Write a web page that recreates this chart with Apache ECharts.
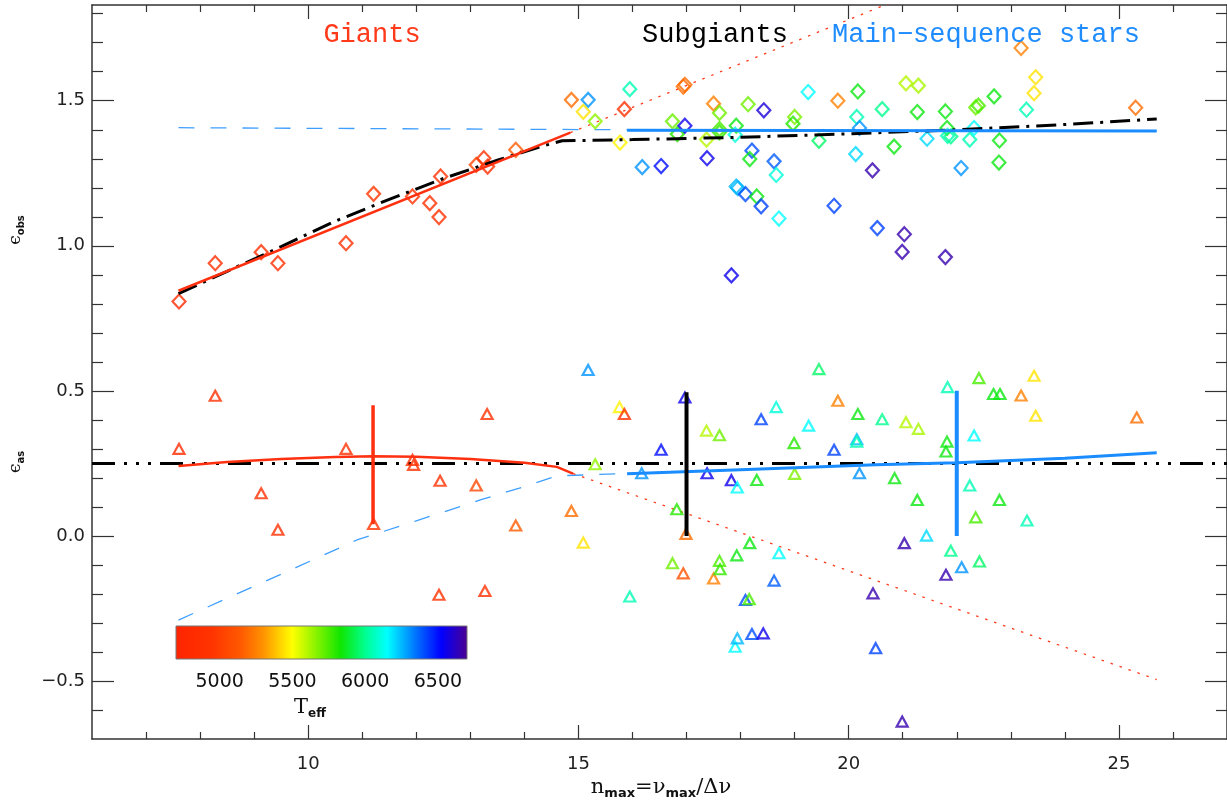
<!DOCTYPE html>
<html><head><meta charset="utf-8">
<script src="https://cdn.jsdelivr.net/npm/echarts@6/dist/echarts.min.js"></script>
<style>html,body{margin:0;padding:0;background:#fff}#c{width:1227px;height:805px}</style>
</head><body><div id="c"></div>
<script>
// ---------- Data ----------
// epsilon_obs (diamonds): x = n_max, y = eps_obs, teff
const obsX = [7.61,8.28,9.13,9.44,10.70,11.21,11.93,12.25,12.42,12.45,13.11,13.25,13.32,13.84,
  14.87,15.18,15.09,15.31,15.85,15.95,15.77,16.18,16.53,16.97,16.94,16.74,16.83,16.97,17.50,17.61,17.61,17.61,17.37,17.38,
  17.92,17.90,18.14,18.43,18.21,18.17,17.95,17.92,18.09,18.30,18.38,18.62,18.66,18.71,19.00,18.97,19.25,17.83,19.80,20.17,
  20.15,20.20,20.13,19.45,20.44,19.73,20.53,20.62,20.84,21.06,21.29,21.27,21.45,21.03,20.99,21.79,21.82,21.83,21.89,21.79,
  22.08,22.24,22.32,22.35,22.40,22.69,22.79,22.78,23.19,23.29,23.46,23.43,25.31];
const obsY = [0.808,0.940,0.978,0.940,1.009,1.179,1.170,1.147,1.099,1.239,1.279,1.302,1.273,1.331,
  1.503,1.503,1.462,1.429,1.471,1.540,1.356,1.271,1.275,1.555,1.549,1.429,1.385,1.414,1.490,1.458,1.402,1.391,1.366,1.302,
  1.414,1.383,1.488,1.467,1.328,1.299,1.199,1.204,1.178,1.170,1.136,1.291,1.244,1.094,1.444,1.421,1.530,0.898,1.500,1.532,
  1.444,1.406,1.316,1.362,1.260,1.138,1.061,1.471,1.342,1.560,1.552,1.461,1.369,1.040,0.979,1.463,1.406,1.379,1.377,0.961,
  1.268,1.366,1.406,1.477,1.483,1.515,1.363,1.287,1.682,1.469,1.581,1.526,1.476];
const obsT = [4800,4850,4850,4850,4850,4950,4900,4900,4900,4900,5050,4900,4900,5150,
  5200,6300,5450,5650,4900,6050,5480,6300,6500,5200,5200,5700,5800,6550,5250,5700,5750,5780,5600,6550,
  5850,6100,5700,6580,6400,5850,6250,6250,6400,5850,6420,6380,6100,6150,5680,5800,6150,6550,5250,5850,
  6050,6300,6200,5950,6650,6420,6420,6000,5850,5600,5620,5850,6200,6650,6650,5850,5850,6050,6000,6650,
  6300,6050,6150,5700,5750,5850,5850,5850,5250,6050,5450,5450,5200];

// epsilon_as (triangles)
const asX = [7.61,8.28,9.13,9.44,10.70,11.21,11.93,11.95,12.44,12.42,13.11,13.27,13.31,13.84,14.87,15.09,15.18,15.31,15.76,15.85,
  15.95,16.17,16.53,16.74,16.82,16.94,16.99,16.97,17.37,17.38,17.50,17.61,17.61,17.62,17.83,17.94,17.93,17.90,17.94,18.09,
  18.16,18.17,18.30,18.21,18.42,18.38,18.62,18.66,18.71,18.99,19.00,19.26,19.45,19.73,19.80,20.15,20.15,20.17,20.20,20.45,
  20.50,20.62,20.85,21.06,21.29,21.27,21.44,21.03,20.99,21.83,21.82,21.80,21.89,21.80,22.09,22.24,22.32,22.41,22.35,22.42,
  22.68,22.80,22.79,23.19,23.30,23.43,23.46,25.33];
const asY = [0.300,0.483,0.147,0.021,0.300,0.041,0.262,0.245,0.190,-0.203,0.174,-0.190,0.420,0.036,0.086,-0.023,0.572,0.247,0.444,0.420,
  -0.209,0.216,0.297,-0.094,0.092,-0.129,0.007,0.477,0.363,0.216,-0.147,0.347,-0.086,-0.115,0.192,0.167,-0.067,-0.382,-0.353,-0.221,
  -0.218,-0.025,0.193,-0.338,-0.336,0.402,-0.154,0.444,-0.060,0.320,0.214,0.380,0.575,0.297,0.466,0.333,0.325,0.420,0.216,-0.198,
  -0.387,0.402,0.199,0.392,0.369,0.124,0.001,-0.025,-0.640,0.513,0.325,0.291,-0.051,-0.134,-0.108,0.174,0.346,0.544,0.064,-0.088,
  0.489,0.489,0.124,0.484,0.053,0.552,0.414,0.408];
const asT = [4800,4850,4850,4850,4850,4950,4900,4900,4900,4900,5050,4900,4900,5150,5200,5450,6300,5650,5480,4900,
  6050,6300,6500,5700,5800,5100,5200,6550,5600,6550,5250,5700,5750,5780,6550,6150,5850,6150,6250,6400,
  5750,5850,5850,6400,6550,6420,6380,6100,6150,5800,5680,6150,5950,6420,5250,6250,6050,5850,6300,6650,
  6420,6000,5850,5600,5620,5850,6200,6650,6650,6050,5850,5850,6000,6650,6300,6050,6150,5750,5750,5950,
  5850,5850,5850,5250,6050,5450,5450,5200];

// Fit / model lines
const giantObsX = [7.6, 14.85], giantObsY = [0.845, 1.39];
const allObsX = [7.6,8.5,9.5,10.5,11.5,12.5,13.5,14.3,14.7,16,18,20,22,24,25.7];
const allObsY = [0.835,0.912,0.997,1.085,1.16,1.232,1.295,1.342,1.362,1.366,1.374,1.386,1.4,1.418,1.437];
const msObsDashX = [7.6, 15.9], msObsDashY = [1.407, 1.40];
const msObsX = [15.9, 25.7], msObsY = [1.398, 1.396];
const giantObsExtX = [14.85, 21.2], giantObsExtY = [1.39, 1.87];

const meanAsX = [6, 27], meanAsY = [0.25, 0.25];
const giantAsX = [7.6,8.5,9.5,10.5,11.2,12,13,14,14.6,14.9];
const giantAsY = [0.241,0.255,0.265,0.272,0.275,0.273,0.265,0.252,0.238,0.215];
const msAsX = [15.9,18,20.5,22,24,25.7], msAsY = [0.214,0.228,0.245,0.252,0.268,0.287];
const msAsDashX = [7.6,8.5,9.8,10.9,12,13.2,14.0,14.6,15.9];
const msAsDashY = [-0.29,-0.215,-0.107,-0.014,0.052,0.125,0.17,0.207,0.215];
const giantAsExtX = [14.9, 25.7], giantAsExtY = [0.215, -0.495];

// error bars [x, ylow, yhigh]
const errGiant = [11.2, 0.04, 0.45];
const errSub = [17.0, 0.0, 0.495];
const errMS = [22.0, 0.0, 0.5];

// Axis ticks
const xMajor = [10, 15, 20, 25];
const xMinor = [7,8,9,11,12,13,14,16,17,18,19,21,22,23,24,26];
const yMajor = [-0.5, 0, 0.5, 1.0, 1.5];
const yMinor = [-0.6,-0.4,-0.3,-0.2,-0.1,0.1,0.2,0.3,0.4,0.6,0.7,0.8,0.9,1.1,1.2,1.3,1.4,1.6,1.7,1.8];

// Colour bar
const teffMin = 4700, teffMax = 6700;
const teffTicks = [5000, 5500, 6000, 6500];
const teffStops = [[4700,'#ff2400'],[4950,'#ff3400'],[5150,'#ff5a00'],[5300,'#ff9200'],[5500,'#ffff00'],
  [5830,'#10e600'],[6000,'#00ff90'],[6150,'#00ffff'],[6350,'#0070ff'],[6520,'#0000ff'],[6700,'#4b0090']];

// ---------- Helpers ----------
function hex2rgb(h){return [parseInt(h.slice(1,3),16),parseInt(h.slice(3,5),16),parseInt(h.slice(5,7),16)];}
function teffColor(t){
  if (t <= teffStops[0][0]) return teffStops[0][1];
  for (let i=1;i<teffStops.length;i++){
    if (t <= teffStops[i][0]){
      const a=teffStops[i-1], b=teffStops[i];
      const f=(t-a[0])/(b[0]-a[0]);
      const ca=hex2rgb(a[1]), cb=hex2rgb(b[1]);
      const c=ca.map((v,k)=>Math.round(v+(cb[k]-v)*f));
      return 'rgb('+c.join(',')+')';
    }
  }
  return teffStops[teffStops.length-1][1];
}
const zip = (xs, ys) => xs.map((x,i)=>[x, ys[i]]);
function line(xs, ys, color, width, type, z){
  return {type:'line', data: zip(xs,ys), showSymbol:false, symbol:'none', clip:true, silent:true,
    lineStyle:{color:color, width:width, type:type, cap:'butt'}, z:z||3, animation:false};
}

const AX = '#333';
function xAx(pos, vals, len, labels, lineShow){
  return {type:'value', min:6, max:27, position:pos, gridIndex:0,
    axisLine:{show:lineShow, onZero:false, lineStyle:{color:AX, width:1.5}},
    axisTick:{show:true, inside:true, length:len, customValues:vals, lineStyle:{color:AX, width:1.2}},
    axisLabel:labels ? {show:true, customValues:vals, margin:16, fontFamily:'DejaVu Sans', fontSize:18, color:'#222'} : {show:false},
    splitLine:{show:false}};
}
function yAx(pos, vals, len, labels, lineShow){
  return {type:'value', min:-0.7, max:1.83, position:pos, gridIndex:0,
    axisLine:{show:lineShow, onZero:false, lineStyle:{color:AX, width:1.5}},
    axisTick:{show:true, inside:true, length:len, customValues:vals, lineStyle:{color:AX, width:1.2}},
    axisLabel:labels ? {show:true, customValues:vals, margin:7, fontFamily:'DejaVu Sans', fontSize:18, color:'#222',
      formatter: v => (v < -1e-9 ? '\u2212' + Math.abs(v).toFixed(1) : Math.abs(v).toFixed(1))} : {show:false},
    splitLine:{show:false}};
}

const chart = echarts.init(document.getElementById('c'), null, {renderer:'canvas'});

const series = [];
// lines
series.push(line(meanAsX, meanAsY, '#000', 3, [23,9,3,9,3,9,3,9], 2));
series.push(line(msObsDashX, msObsDashY, '#3f9fff', 1.3, [16,16], 2));
series.push(line(msAsDashX, msAsDashY, '#3f9fff', 1.3, [16,16], 2));
series.push(line(giantObsExtX, giantObsExtY, '#ff3a1a', 1.3, [2.5,7], 2));
series.push(line(giantAsExtX, giantAsExtY, '#ff3a1a', 1.3, [2.5,7], 2));
series.push(line(allObsX, allObsY, '#000', 3, [20,7,3,7], 4));
series.push(line(giantObsX, giantObsY, '#ff3010', 2.5, 'solid', 5));
series.push(line(giantAsX, giantAsY, '#ff3010', 2.5, 'solid', 5));
series.push(line(msObsX, msObsY, '#1a8cff', 3, 'solid', 5));
series.push(line(msAsX, msAsY, '#1a8cff', 3, 'solid', 5));
// error bars
series.push(line([errGiant[0],errGiant[0]], [errGiant[1],errGiant[2]], '#ff3010', 3.5, 'solid', 6));
series.push(line([errSub[0],errSub[0]], [errSub[1],errSub[2]], '#000', 4, 'solid', 6));
series.push(line([errMS[0],errMS[0]], [errMS[1],errMS[2]], '#1a8cff', 4, 'solid', 6));
// scatter
series.push({type:'scatter', symbol:'diamond', symbolSize:[13,14], silent:true, animation:false, z:3,
  itemStyle:{color:'rgba(0,0,0,0)', borderWidth:2.2},
  data: obsX.map((x,i)=>({value:[x, obsY[i]], itemStyle:{borderColor: teffColor(obsT[i])}}))});
series.push({type:'scatter', symbol:'triangle', symbolSize:[11,10], silent:true, animation:false, z:3,
  itemStyle:{color:'rgba(0,0,0,0)', borderWidth:2.2},
  data: asX.map((x,i)=>({value:[x, asY[i]], itemStyle:{borderColor: teffColor(asT[i])}}))});

// colour bar graphic
const cb = {x:176, y:626, w:291, h:33};
const grad = new echarts.graphic.LinearGradient(0,0,1,0,
  teffStops.map(s => ({offset:(s[0]-teffMin)/(teffMax-teffMin), color:s[1]})));
const graphics = [
  {type:'rect', shape:{x:cb.x, y:cb.y, width:cb.w, height:cb.h}, style:{fill:grad, stroke:'#777', lineWidth:1}, z:10},
  ...teffTicks.map(t => ({type:'text', x: cb.x + (t-teffMin)/(teffMax-teffMin)*cb.w, y:682, z:10,
    style:{text:String(t), align:'center', verticalAlign:'middle', fontFamily:'DejaVu Sans', fontSize:19, fill:'#111'}})),
  {type:'text', x:310, y:708, z:10, style:{text:'{a|T}{b|eff}', align:'center', verticalAlign:'middle',
    rich:{a:{fontFamily:'DejaVu Serif', fontSize:21, fill:'#111', lineHeight:24},
          b:{fontFamily:'DejaVu Sans', fontWeight:'bold', fontSize:12, fill:'#111', lineHeight:13, verticalAlign:'bottom'}}}},
  // titles
  {type:'text', x:372, y:35, z:10, style:{text:'Giants', align:'center', verticalAlign:'middle', fontFamily:'Liberation Mono', fontSize:27, fill:'#ff3a1a'}},
  {type:'text', x:715, y:35, z:10, style:{text:'Subgiants', align:'center', verticalAlign:'middle', fontFamily:'Liberation Mono', fontSize:27, fill:'#000'}},
  {type:'text', x:986, y:35, z:10, style:{text:'Main\u2212sequence stars', align:'center', verticalAlign:'middle', fontFamily:'Liberation Mono', fontSize:27, fill:'#1e8cff'}},
  // axis names
  {type:'text', x:661, y:788, z:10, style:{text:'{a|n}{b|max}{a|=\u03bd}{b|max}{a|/\u0394\u03bd}', align:'center', verticalAlign:'middle',
    rich:{a:{fontFamily:'DejaVu Serif', fontSize:21, fill:'#111', lineHeight:24},
          b:{fontFamily:'DejaVu Sans', fontWeight:'bold', fontSize:13, fill:'#111', lineHeight:13, verticalAlign:'bottom'}}}},
  {type:'text', x:16, y:230, rotation:Math.PI/2, z:10, style:{text:'{a|\u03f5}{b|obs}', align:'center', verticalAlign:'middle',
    rich:{a:{fontFamily:'DejaVu Serif', fontSize:17, fill:'#111', lineHeight:20},
          b:{fontFamily:'DejaVu Sans', fontWeight:'bold', fontSize:10, fill:'#111', lineHeight:11, verticalAlign:'bottom'}}}},
  {type:'text', x:16, y:462, rotation:Math.PI/2, z:10, style:{text:'{a|\u03f5}{b|as}', align:'center', verticalAlign:'middle',
    rich:{a:{fontFamily:'DejaVu Serif', fontSize:17, fill:'#111', lineHeight:20},
          b:{fontFamily:'DejaVu Sans', fontWeight:'bold', fontSize:10, fill:'#111', lineHeight:11, verticalAlign:'bottom'}}}}
];

chart.setOption({
  animation:false,
  backgroundColor:'#fff',
  grid:{left:92, top:5, width:1137, height:734, containLabel:false},
  xAxis:[xAx('bottom', xMajor, 14, true, true), xAx('bottom', xMinor, 7, false, false),
         xAx('top', xMajor, 14, false, true), xAx('top', xMinor, 7, false, false)],
  yAxis:[yAx('left', yMajor, 22, true, true), yAx('left', yMinor, 11, false, false),
         yAx('right', yMajor, 22, false, true), yAx('right', yMinor, 11, false, false)],
  series: series,
  graphic: graphics
});
</script></body></html>
